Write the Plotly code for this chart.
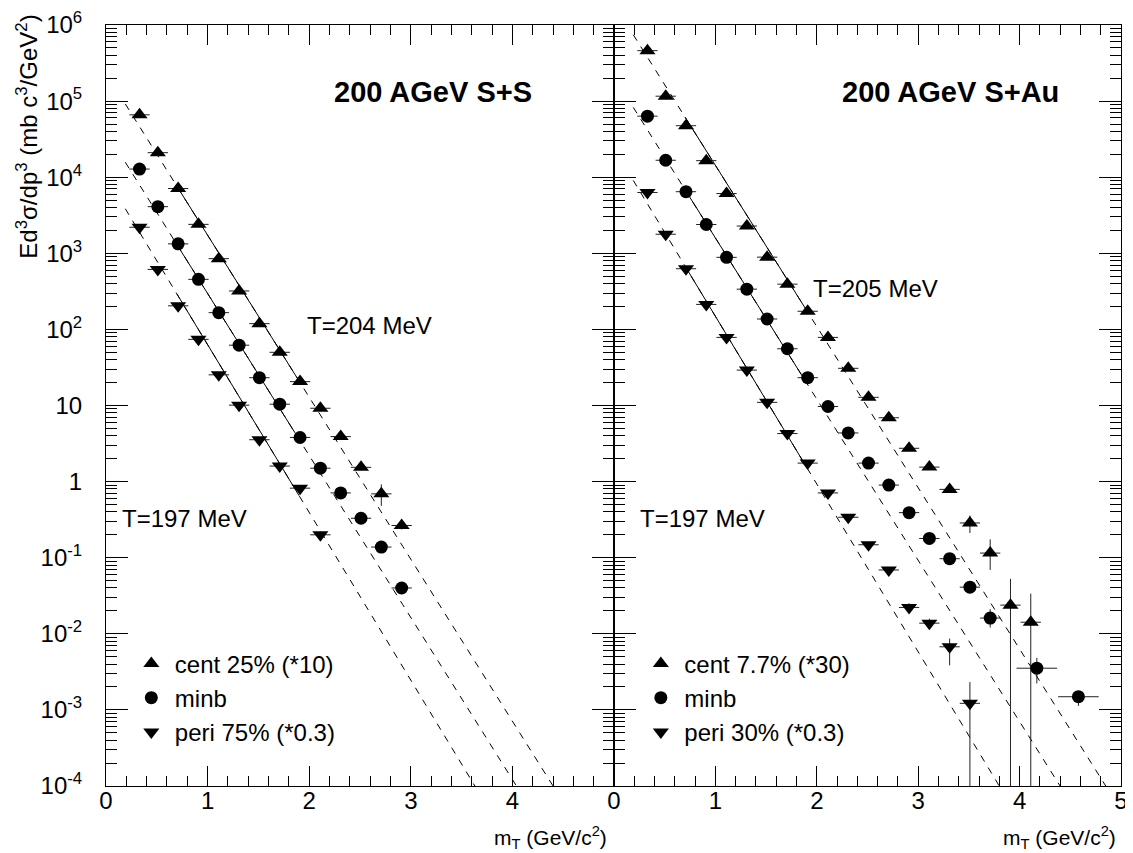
import numpy as np
import plotly.graph_objects as go

# ---------------- data : 200 AGeV S+S ----------------
ss_mt = [0.33, 0.51, 0.71, 0.91, 1.11, 1.31, 1.51, 1.71, 1.91, 2.11, 2.31, 2.51, 2.71, 2.91]
ss_cent = [6.6e4, 2.1e4, 7.1e3, 2.4e3, 850, 320, 119, 50, 20.6, 9.2, 3.9, 1.54, 0.69, 0.265]
ss_cent_eh = [0, 0, 0, 0, 0, 0, 0, 0, 0, 0, 0, 0, 0.23, 0.03]
ss_cent_el = [0, 0, 0, 0, 0, 0, 0, 0, 0, 0, 0, 0, 0.21, 0.03]
ss_minb = [1.28e4, 4.1e3, 1.33e3, 455, 166, 62, 23.2, 10.4, 3.8, 1.50, 0.71, 0.33, 0.138, 0.040]
ss_minb_eh = [0, 0, 0, 0, 0, 0, 0, 0, 0, 0, 0, 0, 0, 0.004]
ss_minb_el = [0, 0, 0, 0, 0, 0, 0, 0, 0, 0, 0, 0, 0, 0.004]
ss_peri_mt = [0.33, 0.51, 0.71, 0.91, 1.11, 1.31, 1.51, 1.71, 1.91, 2.11]
ss_peri = [2.2e3, 614, 204, 74, 25.3, 10.1, 3.55, 1.6, 0.82, 0.20]
ss_peri_eh = [0, 0, 0, 0, 0, 0, 0, 0, 0, 0.02]
ss_peri_el = [0, 0, 0, 0, 0, 0, 0, 0, 0, 0.02]
ss_dmt = [0.1, 0.1, 0.1, 0.1, 0.1, 0.1, 0.1, 0.1, 0.1, 0.1, 0.1, 0.1, 0.1, 0.1]

# ---------------- data : 200 AGeV S+Au ----------------
sau_mt = [0.33, 0.51, 0.71, 0.91, 1.11, 1.31, 1.51, 1.71, 1.91, 2.11, 2.31, 2.51, 2.71,
          2.91, 3.11, 3.31, 3.51, 3.71, 3.91, 4.11]
sau_cent = [4.6e5, 1.16e5, 4.75e4, 1.65e4, 6.1e3, 2.28e3, 890, 393, 173, 78.5, 30.8, 12.8, 6.9,
            2.74, 1.55, 0.79, 0.286, 0.115, 0.0238, 0.0142]
sau_cent_eh = [0, 0, 0, 0, 0, 0, 0, 0, 0, 0, 0, 0, 0, 0, 0, 0.05, 0.072, 0.059, 0.029, 0.0195]
sau_cent_el = [0, 0, 0, 0, 0, 0, 0, 0, 0, 0, 0, 0, 0, 0, 0, 0.05, 0.075, 0.046, 0.02379, 0.01419]
sau_minb_mt = [0.33, 0.51, 0.71, 0.91, 1.11, 1.31, 1.51, 1.71, 1.91, 2.11, 2.31, 2.51, 2.71,
               2.91, 3.11, 3.31, 3.51, 3.71, 4.17, 4.58]
sau_minb = [6.34e4, 1.67e4, 6.45e3, 2.39e3, 885, 338, 137, 55.7, 23.2, 9.7, 4.36, 1.75, 0.90,
            0.391, 0.179, 0.097, 0.041, 0.0161, 0.00353, 0.00149]
sau_minb_eh = [0, 0, 0, 0, 0, 0, 0, 0, 0, 0, 0, 0, 0, 0, 0, 0, 0.004, 0.005, 0.0013, 0.0003]
sau_minb_el = [0, 0, 0, 0, 0, 0, 0, 0, 0, 0, 0, 0, 0, 0, 0, 0, 0.004, 0.004, 0.0013, 0.00036]
sau_minb_dmt = [0.1, 0.1, 0.1, 0.1, 0.1, 0.1, 0.1, 0.1, 0.1, 0.1, 0.1, 0.1, 0.1,
                0.1, 0.1, 0.1, 0.1, 0.1, 0.2, 0.2]
sau_peri_mt = [0.33, 0.51, 0.71, 0.91, 1.11, 1.31, 1.51, 1.71, 1.91, 2.11, 2.31, 2.51, 2.71,
               2.91, 3.11, 3.31, 3.51]
sau_peri = [6.3e3, 1.78e3, 627, 213, 78.5, 29.2, 11.0, 4.28, 1.75, 0.71, 0.340, 0.148, 0.069,
            0.0222, 0.0138, 0.00675, 0.00122]
sau_peri_eh = [0, 0, 0, 0, 0, 0, 0, 0, 0, 0, 0, 0, 0, 0.003, 0.002, 0.0019, 0.0011]
sau_peri_el = [0, 0, 0, 0, 0, 0, 0, 0, 0, 0, 0, 0, 0, 0.003, 0.002, 0.0029, 0.00121]
sau_dmt = [0.1, 0.1, 0.1, 0.1, 0.1, 0.1, 0.1, 0.1, 0.1, 0.1, 0.1, 0.1, 0.1,
           0.1, 0.1, 0.1, 0.1, 0.1, 0.1, 0.1]

# exponential fits  A*exp(-mT/T)  (cent, minb, peri)
ss_fit_A = [2.33e5, 3.99e4, 1.01e4]
ss_fit_T = [0.204, 0.204, 0.197]
sau_fit_A = [1.88e6, 2.09e5, 2.38e4]
sau_fit_T = [0.205, 0.205, 0.197]
fit_full = [0.19, 5.0]
fit_solid = [0.70, 1.90]

ss_labels = ["cent 25% (*10)", "minb", "peri 75% (*0.3)"]
sau_labels = ["cent 7.7% (*30)", "minb", "peri 30% (*0.3)"]
symbols = ["triangle-up", "circle", "triangle-down"]
msizes = [14, 13, 14]

FONT = "Liberation Sans, Arial, Helvetica, sans-serif"
fig = go.Figure()


def add_fits(xa, ya, As, Ts):
    for A, T in zip(As, Ts):
        for rng, dash in ((fit_full, "7px,7px"), (fit_solid, "solid")):
            xx = np.linspace(rng[0], rng[1], 200)
            fig.add_trace(go.Scatter(x=xx, y=A * np.exp(-xx / T), mode="lines",
                                     line=dict(color="black", width=1, dash=dash),
                                     xaxis=xa, yaxis=ya, showlegend=False, hoverinfo="skip"))


def add_series(xa, ya, legend, sets):
    for i, (x, y, ex, eh, el, name) in enumerate(sets):
        fig.add_trace(go.Scatter(
            x=x, y=y, mode="markers", name=name, xaxis=xa, yaxis=ya,
            legend=legend, legendgroup=legend + str(i),
            marker=dict(symbol=symbols[i], size=msizes[i], color="black"),
            error_x=dict(type="data", array=ex, symmetric=True, color="#222", thickness=1, width=0),
            error_y=dict(type="data", array=eh, arrayminus=el, symmetric=False,
                         color="#222", thickness=1, width=0)))


add_fits("x", "y", ss_fit_A, ss_fit_T)
add_fits("x2", "y2", sau_fit_A, sau_fit_T)
add_series("x", "y", "legend", [
    (ss_mt, ss_cent, ss_dmt, ss_cent_eh, ss_cent_el, ss_labels[0]),
    (ss_mt, ss_minb, ss_dmt, ss_minb_eh, ss_minb_el, ss_labels[1]),
    (ss_peri_mt, ss_peri, ss_dmt[:10], ss_peri_eh, ss_peri_el, ss_labels[2]),
])
add_series("x2", "y2", "legend2", [
    (sau_mt, sau_cent, sau_dmt, sau_cent_eh, sau_cent_el, sau_labels[0]),
    (sau_minb_mt, sau_minb, sau_minb_dmt, sau_minb_eh, sau_minb_el, sau_labels[1]),
    (sau_peri_mt, sau_peri, sau_dmt[:17], sau_peri_eh, sau_peri_el, sau_labels[2]),
])

ytv = [10.0 ** e for e in range(-4, 7)]
ytt = ["10<sup>-4</sup>", "10<sup>-3</sup>", "10<sup>-2</sup>", "10<sup>-1</sup>", "1", "10",
       "10<sup>2</sup>", "10<sup>3</sup>", "10<sup>4</sup>", "10<sup>5</sup>", "10<sup>6</sup>"]
yminor = [m * 10.0 ** e for e in range(-4, 6) for m in range(2, 10)]

xcommon = dict(range=[0, 5], showline=True, linecolor="black", linewidth=1, mirror="ticks",
               ticks="inside", ticklen=20, tickcolor="black", showgrid=False, zeroline=False,
               tickvals=[0, 1, 2, 3, 4, 5], automargin=False,
               minor=dict(dtick=0.2, tick0=0, ticks="inside", ticklen=10, tickcolor="black",
                          showgrid=False),
               tickfont=dict(size=24), ticklabelstandoff=-7)
ycommon = dict(type="log", range=[-4, 6], showline=True, linecolor="black", linewidth=1,
               mirror="ticks", ticks="inside", ticklen=22, tickcolor="black", showgrid=False,
               zeroline=False, tickvals=ytv, ticktext=ytt, automargin=False,
               minor=dict(tickvals=yminor, ticks="inside", ticklen=11, tickcolor="black",
                          showgrid=False),
               tickfont=dict(size=24), ticklabelstandoff=18)

fig.update_layout(
    width=1133, height=853,
    margin=dict(l=98, r=20, t=17, b=75),
    paper_bgcolor="white", plot_bgcolor="white",
    font=dict(family=FONT, size=24, color="black"),
    xaxis=dict(domain=[0, 0.5005], anchor="y", ticktext=["0", "1", "2", "3", "4", ""], **xcommon),
    xaxis2=dict(domain=[0.5005, 1], anchor="y2", ticktext=["0", "1", "2", "3", "4", "5"], **xcommon),
    yaxis=dict(domain=[0, 1], anchor="x", **ycommon),
    yaxis2=dict(domain=[0, 1], anchor="x2", showticklabels=False, **ycommon),
    legend=dict(x=0.0215, y=0.19, xanchor="left", yanchor="top", bgcolor="rgba(0,0,0,0)",
                font=dict(size=24), tracegroupgap=0, itemwidth=37),
    legend2=dict(x=0.5235, y=0.19, xanchor="left", yanchor="top", bgcolor="rgba(0,0,0,0)",
                 font=dict(size=24), tracegroupgap=0, itemwidth=37),
    showlegend=True,
)

ann = []
ann.append(dict(text="<b>200 AGeV S+S</b>", xref="x domain", yref="y domain", x=0.445, y=0.912,
                xanchor="left", yanchor="middle", showarrow=False, font=dict(size=29)))
ann.append(dict(text="<b>200 AGeV S+Au</b>", xref="x2 domain", yref="y2 domain", x=0.445, y=0.912,
                xanchor="left", yanchor="middle", showarrow=False, font=dict(size=29)))
ann.append(dict(text="T=204 MeV", xref="x domain", yref="y domain", x=0.391, y=0.605,
                xanchor="left", yanchor="middle", showarrow=False))
ann.append(dict(text="T=197 MeV", xref="x domain", yref="y domain", x=0.028, y=0.352,
                xanchor="left", yanchor="middle", showarrow=False))
ann.append(dict(text="T=205 MeV", xref="x2 domain", yref="y2 domain", x=0.388, y=0.654,
                xanchor="left", yanchor="middle", showarrow=False))
ann.append(dict(text="T=197 MeV", xref="x2 domain", yref="y2 domain", x=0.048, y=0.352,
                xanchor="left", yanchor="middle", showarrow=False))
ann.append(dict(text="m<sub>T</sub> (GeV/c<sup>2</sup>)", xref="x domain", yref="paper",
                x=0.99, y=-0.068, xanchor="right", yanchor="middle", showarrow=False,
                font=dict(size=21)))
ann.append(dict(text="m<sub>T</sub> (GeV/c<sup>2</sup>)", xref="x2 domain", yref="paper",
                x=0.995, y=-0.068, xanchor="right", yanchor="middle", showarrow=False,
                font=dict(size=21)))
ann.append(dict(text="Ed<sup>3</sup>σ/dp<sup>3</sup> (mb c<sup>3</sup>/GeV<sup>2</sup>)",
                xref="paper", yref="paper", x=-0.078, y=1.016, xanchor="center", yanchor="top",
                textangle=-90, showarrow=False, font=dict(size=24)))
fig.update_layout(annotations=ann)

fig.write_html("out.html")
